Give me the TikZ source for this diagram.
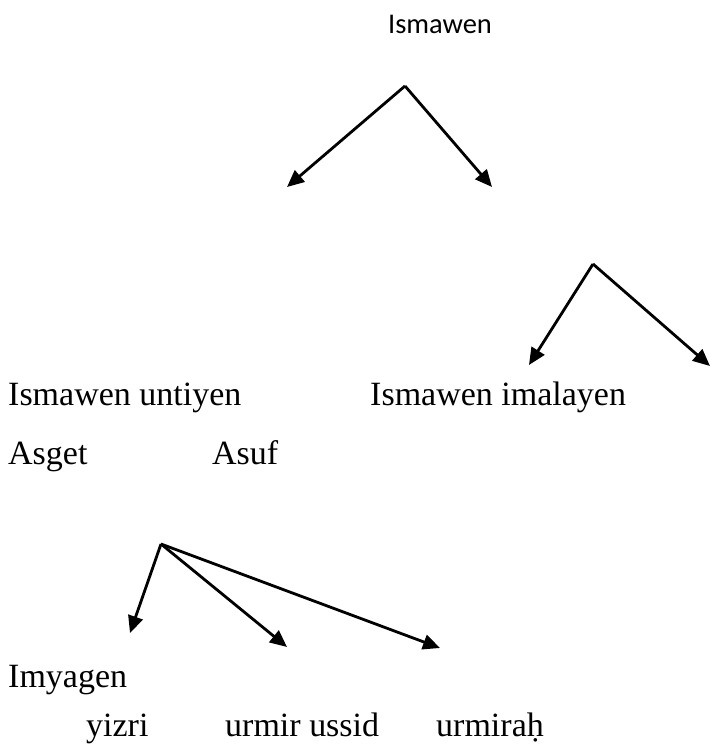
\documentclass[tikz,border=0pt]{standalone}
\usepackage{fontspec}
\setmainfont{Liberation Serif}
\newfontfamily\calibrifont{Carlito}
\usetikzlibrary{arrows.meta}

\begin{document}
\begin{tikzpicture}[x=1pt,y=-1pt,
	arr/.style={line width=2.8pt,line join=miter,-{Triangle[length=17pt,width=15pt]}},
	word/.style={anchor=base west,inner sep=0pt,font=\fontsize{34}{40}\selectfont}]
	\useasboundingbox (0,0) rectangle (710,745);

	\node[anchor=base,inner sep=0pt,font=\calibrifont\fontsize{28.5}{34}\selectfont] (root) at (440,33) {Ismawen};

	\coordinate (topfork)  at (405,86);
	\coordinate (topleft)  at (287,187);
	\coordinate (topright) at (492,187);
	\draw[arr] (topfork) -- (topleft);
	\draw[arr] (topfork) -- (topright);

	\coordinate (imafork)  at (593,264);
	\coordinate (imaleft)  at (529,365);
	\coordinate (imaright) at (710,366);
	\draw[arr] (imafork) -- (imaleft);
	\draw[arr] (imafork) -- (imaright);

	\node[word] (untiyen)  at (8,405)   {Ismawen untiyen};
	\node[word] (imalayen) at (370,405) {Ismawen imalayen};
	\node[word] (asget)    at (8,464)   {Asget};
	\node[word] (asuf)     at (212,464) {Asuf};

	\coordinate (imyfork) at (161,544);
	\coordinate (imyone)  at (130,633);
	\coordinate (imytwo)  at (287,647);
	\coordinate (imythree) at (440,648);
	\draw[arr] (imyfork) -- (imyone);
	\draw[arr] (imyfork) -- (imytwo);
	\draw[arr] (imyfork) -- (imythree);

	\node[word] (imyagen) at (8,687)   {Imyagen};
	\node[word] (yizri)   at (86,736)  {yizri};
	\node[word] (ussid)   at (225,736) {urmir ussid};
	\node[word] (urmirah) at (436,736) {urmiraḥ};
\end{tikzpicture}
\end{document}
